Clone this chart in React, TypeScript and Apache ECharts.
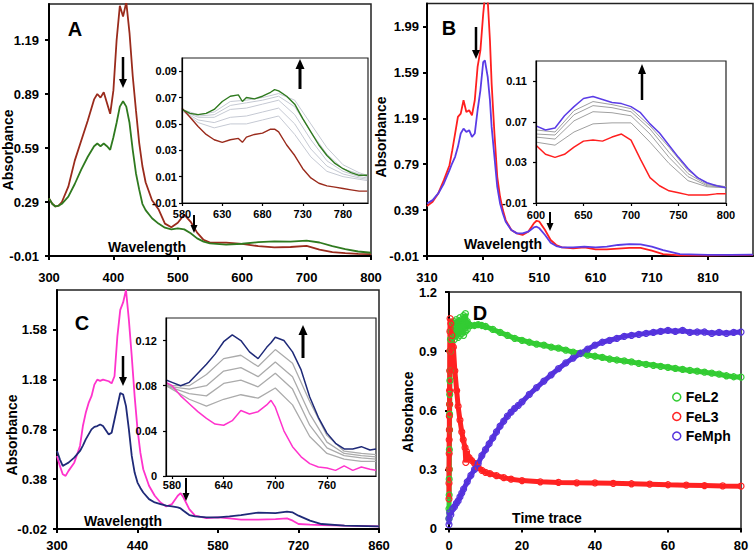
import React, { useEffect, useRef } from 'react';
import * as echarts from 'echarts';

const FONT = '"Liberation Sans", Arial, Helvetica, sans-serif';

// ---------- Panel A (main) ----------
const aWave = [300,305,310,315,320,330,340,350,360,370,375,380,385,390,395,400,405,410,415,420,425,430,435,440,445,450,460,470,480,490,500,510,520,530,540,550,575,600,625,650,675,700,720,740,760,780,800];
const aBrown = [0.31,0.28,0.265,0.27,0.29,0.375,0.52,0.63,0.74,0.86,0.89,0.87,0.9,0.84,0.78,0.91,1.19,1.38,1.32,1.4,1.23,0.99,0.8,0.62,0.49,0.4,0.3,0.25,0.17,0.15,0.175,0.22,0.18,0.12,0.08,0.064,0.064,0.057,0.045,0.038,0.04,0.046,0.025,0.012,0.006,0.002,0.0];
const aGreen = [0.31,0.28,0.265,0.27,0.28,0.32,0.39,0.47,0.54,0.6,0.615,0.6,0.615,0.6,0.58,0.65,0.73,0.82,0.85,0.82,0.73,0.58,0.45,0.36,0.28,0.245,0.2,0.17,0.147,0.138,0.144,0.138,0.116,0.088,0.07,0.06,0.053,0.058,0.067,0.071,0.07,0.075,0.065,0.045,0.028,0.015,0.008];

// ---------- Panel A (inset) ----------
const aInsetWave = [580,590,600,610,620,630,640,650,655,660,670,680,690,695,700,710,720,730,740,750,760,770,780,790,800,810];
const aInsetGreen = [0.061,0.058,0.057,0.058,0.061,0.067,0.071,0.072,0.067,0.07,0.069,0.071,0.074,0.076,0.075,0.071,0.065,0.054,0.044,0.034,0.026,0.02,0.016,0.013,0.011,0.011];
const aInsetBrown = [0.062,0.055,0.048,0.042,0.038,0.036,0.038,0.039,0.036,0.04,0.042,0.043,0.046,0.046,0.044,0.034,0.026,0.016,0.009,0.005,0.003,0.002,0.001,0.0,-0.001,-0.001];
const aGrayWave = [580,600,620,640,660,680,700,720,740,760,780,800,810];
const aGray1 = [0.061,0.057,0.059,0.067,0.068,0.07,0.073,0.068,0.05,0.032,0.019,0.013,0.011];
const aGray2 = [0.06,0.056,0.057,0.064,0.066,0.068,0.071,0.063,0.044,0.027,0.016,0.012,0.01];
const aGray3 = [0.06,0.055,0.055,0.061,0.062,0.065,0.068,0.057,0.038,0.022,0.014,0.01,0.009];
const aGray4 = [0.06,0.053,0.051,0.055,0.056,0.059,0.062,0.05,0.031,0.018,0.012,0.009,0.008];
const aGray5 = [0.06,0.051,0.047,0.05,0.05,0.053,0.056,0.042,0.025,0.014,0.01,0.008,0.007];

// ---------- Panel B (main) ----------
const bWave = [310,320,330,340,350,355,360,365,370,375,380,385,390,395,400,405,410,413,418,422,425,430,435,440,445,450,460,470,480,490,500,505,510,520,530,540,550,570,590,610,630,650,670,690,710,730,760,810,850,890];
const bRed = [0.425,0.463,0.535,0.651,0.781,0.912,1.057,1.202,1.231,1.347,1.245,1.26,1.216,1.347,1.637,1.782,2.1,2.25,2.22,1.868,1.492,1.057,0.68,0.506,0.39,0.303,0.216,0.187,0.173,0.202,0.274,0.297,0.289,0.216,0.129,0.086,0.065,0.057,0.065,0.048,0.048,0.054,0.06,0.06,0.036,0.007,-0.004,-0.004,-0.002,0.0];
const bBlue = [0.448,0.477,0.535,0.622,0.738,0.8,0.854,0.941,1.057,1.1,1.071,1.086,1.028,1.057,1.26,1.434,1.68,1.695,1.55,1.347,1.115,0.854,0.593,0.448,0.361,0.289,0.216,0.187,0.187,0.202,0.239,0.245,0.231,0.173,0.106,0.077,0.065,0.065,0.071,0.065,0.071,0.086,0.094,0.091,0.071,0.042,0.007,-0.001,0.0,0.002];

// ---------- Panel B (inset) ----------
const bInsetWave = [600,610,620,630,640,650,660,670,680,690,700,710,720,730,740,750,760,770,780,790,800];
const bInsetBlue = [0.066,0.062,0.064,0.076,0.085,0.093,0.095,0.092,0.089,0.088,0.085,0.079,0.068,0.059,0.047,0.035,0.024,0.015,0.01,0.007,0.005];
const bInsetRed = [0.047,0.038,0.035,0.038,0.045,0.051,0.052,0.051,0.055,0.058,0.052,0.033,0.015,0.007,0.002,0.0,-0.002,-0.002,-0.002,-0.001,-0.001];
const bGrayWave = [600,620,640,660,680,700,720,740,760,780,800];
const bGray1 = [0.062,0.06,0.081,0.09,0.087,0.083,0.066,0.045,0.022,0.009,0.006];
const bGray2 = [0.058,0.057,0.077,0.086,0.084,0.08,0.063,0.04,0.019,0.008,0.006];
const bGray3 = [0.055,0.053,0.071,0.08,0.079,0.076,0.058,0.035,0.016,0.007,0.005];
const bGray4 = [0.05,0.047,0.06,0.068,0.069,0.069,0.05,0.029,0.012,0.006,0.005];

// ---------- Panel C (main) ----------
const cWave = [300,305,310,315,320,330,340,345,350,355,360,365,370,375,380,390,395,400,405,410,415,420,425,430,435,440,445,450,460,470,480,490,500,510,515,520,530,540,560,580,600,620,650,680,700,710,720,740,760,800,860];
const cMagenta = [0.567,0.487,0.42,0.407,0.447,0.513,0.647,0.807,0.913,0.993,1.047,1.14,1.18,1.17,1.18,1.167,1.15,1.207,1.527,1.74,1.8,1.9,1.66,1.367,1.047,0.78,0.593,0.46,0.327,0.247,0.193,0.161,0.18,0.247,0.268,0.233,0.14,0.087,0.068,0.073,0.065,0.055,0.055,0.06,0.065,0.047,0.02,0.015,0.012,0.007,0.001];
const cNavy = [0.607,0.54,0.487,0.5,0.513,0.553,0.607,0.65,0.7,0.74,0.78,0.8,0.807,0.82,0.807,0.74,0.753,0.86,0.967,1.073,1.06,0.967,0.78,0.567,0.433,0.353,0.31,0.273,0.22,0.193,0.18,0.167,0.161,0.153,0.145,0.127,0.092,0.081,0.073,0.073,0.081,0.092,0.112,0.108,0.119,0.113,0.087,0.047,0.02,0.007,0.001];

// ---------- Panel C (inset) ----------
const cInsetWave = [573,580,590,600,610,620,630,640,650,660,670,680,690,695,700,710,720,730,740,750,760,770,780,790,800,810,817];
const cInsetNavy = [0.085,0.083,0.08,0.083,0.091,0.099,0.108,0.119,0.125,0.12,0.11,0.104,0.114,0.118,0.123,0.12,0.11,0.094,0.07,0.052,0.038,0.029,0.024,0.024,0.026,0.023,0.024];
const cInsetMagenta = [0.083,0.08,0.071,0.064,0.057,0.051,0.046,0.045,0.049,0.058,0.055,0.057,0.063,0.067,0.061,0.04,0.026,0.017,0.011,0.008,0.007,0.005,0.009,0.005,0.008,0.006,0.005];
const cGrayWave = [573,580,600,620,640,660,680,700,720,740,760,780,800,817];
const cGray1 = [0.082,0.08,0.08,0.09,0.104,0.107,0.097,0.112,0.1,0.066,0.036,0.022,0.02,0.019];
const cGray2 = [0.081,0.079,0.077,0.08,0.093,0.096,0.088,0.101,0.088,0.055,0.03,0.02,0.018,0.017];
const cGray3 = [0.08,0.078,0.073,0.071,0.082,0.085,0.079,0.091,0.077,0.045,0.025,0.018,0.016,0.015];
const cGray4 = [0.08,0.077,0.068,0.062,0.068,0.072,0.069,0.078,0.063,0.035,0.02,0.015,0.013,0.013];

// ---------- Panel D (time trace) ----------
const dL2Time = [0,0,0.05,0.05,0.1,0.1,0.15,0.15,0.2,0.2,0.25,0.3,0.35,0.4,0.5,1,1,1.5,1.5,2,2,2.5,2.5,3,3,3.5,3.5,4,4,4.5,4.5,5,5,6,7,8,9,10,12,14,16,18,20,22,24,26,28,30,32,34,36,38,40,42,44,46,48,50,52,54,56,58,60,62,64,66,68,70,72,74,76,78,80];
const dL2Abs = [0.05,0.1,0.17,0.25,0.3,0.4,0.5,0.58,0.63,0.68,0.75,0.8,0.9,0.96,1.0,0.97,1.04,0.96,1.05,0.98,1.06,0.97,1.05,0.98,1.07,0.99,1.06,0.98,1.08,1.0,1.09,1.01,1.05,1.03,1.03,1.035,1.03,1.025,1.01,0.995,0.98,0.965,0.955,0.945,0.935,0.93,0.92,0.915,0.905,0.895,0.89,0.88,0.874,0.868,0.86,0.855,0.85,0.845,0.838,0.833,0.828,0.823,0.818,0.812,0.807,0.802,0.798,0.793,0.788,0.783,0.775,0.77,0.768];
const dL3Time = [0,0,0,0.05,0.05,0.1,0.1,0.15,0.15,0.2,0.2,0.25,0.3,0.5,0.8,1.2,1.6,2.1,2.5,3,3.5,3.9,4.4,4.6,4.8,5.5,6.2,7,8,9,10,11.2,13,15,17,20,25,30,35,40,45,50,55,60,65,70,75,80];
const dL3Abs = [0.15,0.23,0.3,0.38,0.45,0.5,0.57,0.63,0.7,0.8,0.9,1.0,1.065,1.04,0.98,0.92,0.8,0.7,0.62,0.55,0.49,0.45,0.41,0.335,0.39,0.36,0.345,0.33,0.31,0.295,0.285,0.279,0.268,0.258,0.25,0.243,0.237,0.234,0.232,0.231,0.229,0.227,0.225,0.222,0.22,0.218,0.216,0.215];
const dMphTime = [0,0,0.2,0.5,1,1.5,2,2.5,3,3.5,4,5,6,7,8,9,10,11,12,13,14,15,16,17,18,19,20,22,24,26,28,30,32,34,36,38,40,42,44,46,48,50,52,54,56,58,60,62,64,66,68,70,72,74,76,78,80];
const dMphAbs = [0.02,0.05,0.08,0.07,0.1,0.11,0.127,0.14,0.16,0.18,0.2,0.237,0.27,0.3,0.33,0.37,0.4,0.43,0.46,0.49,0.52,0.545,0.57,0.59,0.61,0.625,0.642,0.68,0.715,0.748,0.78,0.811,0.84,0.865,0.888,0.91,0.93,0.945,0.955,0.965,0.975,0.98,0.985,0.99,0.995,1.0,1.005,1.0,1.005,0.995,0.997,0.997,0.99,0.995,0.99,0.995,0.997];

// ---------- Tick labels ----------
const aXTicks = [300,400,500,600,700,800];
const aYTicks = [-0.01,0.29,0.59,0.89,1.19];
const aInXTicks = [580,630,680,730,780];
const aInYTicks = [-0.01,0.01,0.03,0.05,0.07,0.09];
const bXTicks = [310,410,510,610,710,810];
const bYTicks = [-0.01,0.39,0.79,1.19,1.59,1.99];
const bInXTicks = [600,650,700,750,800];
const bInYTicks = [-0.01,0.03,0.07,0.11];
const cXTicks = [300,440,580,720,860];
const cYTicks = [-0.02,0.38,0.78,1.18,1.58];
const cInXTicks = [580,640,700,760];
const cInYTicks = [0,0.04,0.08,0.12];
const dXTicks = [0,20,40,60,80];
const dYTicks = [0,0.3,0.6,0.9,1.2];

const pairs = (xs: number[], ys: number[]) => xs.map((x, i) => [x, ys[i]]);

type AxOpt = { lw: number; tl: number; fs: number; m: number; fmt: (v: number) => string; z?: number };

function axis(gi: number, min: number, max: number, ticks: number[], o: AxOpt) {
  return {
    type: 'value',
    gridIndex: gi,
    min,
    max,
    z: o.z ?? 2,
    axisLine: { show: true, onZero: false, lineStyle: { color: '#000', width: o.lw } },
    axisTick: { show: true, inside: false, length: o.tl, customValues: ticks, lineStyle: { color: '#000', width: o.lw } },
    axisLabel: {
      customValues: ticks,
      fontSize: o.fs,
      fontWeight: 'bold',
      fontFamily: FONT,
      color: '#000',
      margin: o.m,
      formatter: o.fmt,
      hideOverlap: false,
    },
    splitLine: { show: false },
  };
}

const f2 = (v: number) => (Math.abs(v) < 1e-9 ? '0' : v.toFixed(2));
const fInt = (v: number) => String(Math.round(v));
const f1 = (v: number) => String(Number(v.toFixed(1)));

function line(name: string, gi: number, xs: number[], ys: number[], color: string, width: number, z = 2) {
  return {
    type: 'line',
    name,
    xAxisIndex: gi,
    yAxisIndex: gi,
    data: pairs(xs, ys),
    showSymbol: false,
    symbol: 'none',
    lineStyle: { color, width },
    itemStyle: { color },
    z,
    silent: true,
  };
}

function dots(name: string, xs: number[], ys: number[], color: string) {
  return {
    type: 'line',
    name,
    xAxisIndex: 6,
    yAxisIndex: 6,
    data: pairs(xs, ys),
    showSymbol: true,
    symbol: 'circle',
    symbolSize: 6,
    itemStyle: { color: 'rgba(255,255,255,0)', borderColor: color, borderWidth: 1.2 },
    lineStyle: { color, width: 5 },
    z: 3,
    silent: true,
  };
}

function txt(text: string, x: number, y: number, size: number, rot = 0) {
  return {
    type: 'text',
    x,
    y,
    rotation: rot,
    z: 100,
    style: {
      text,
      fill: '#000',
      fontSize: size,
      fontWeight: 'bold',
      fontFamily: FONT,
      align: 'center',
      verticalAlign: 'middle',
      textAlign: 'center',
      textVerticalAlign: 'middle',
    },
  };
}

function arrow(x: number, y1: number, y2: number, sw = 2.5, hw = 8, hl = 9) {
  const dir = y2 > y1 ? 1 : -1;
  const yb = y2 - dir * hl;
  return [
    { type: 'line', z: 100, shape: { x1: x, y1, x2: x, y2: yb }, style: { stroke: '#000', lineWidth: sw } },
    { type: 'polygon', z: 100, shape: { points: [[x - hw / 2, yb], [x + hw / 2, yb], [x, y2]] }, style: { fill: '#000' } },
  ];
}

const mainX = (m: number) => ({ lw: 2, tl: 4, fs: 13, m, fmt: fInt });
const mainY = (m: number, fmt = f2) => ({ lw: 2, tl: 4, fs: 13, m, fmt });
const inX = (m: number) => ({ lw: 1.2, tl: 3, fs: 11, m, fmt: fInt, z: 5 });
const inY = (m: number) => ({ lw: 1.2, tl: 3, fs: 11, m, fmt: f2, z: 5 });

const gridBase = { show: true, borderColor: '#222', borderWidth: 1.5, containLabel: false };

const colors = {
  brown: '#9a2b1c',
  green: '#2f7a1f',
  grayA: '#c5c9d3',
  red: '#ff1f1f',
  blue: '#5a3ce6',
  grayB: '#a0a0a0',
  magenta: '#ff33cc',
  navy: '#1f2a78',
  grayC: '#ababab',
  dGreen: '#33cc33',
  dRed: '#ff2222',
  dBlue: '#5533dd',
};

const option = {
  animation: false,
  backgroundColor: '#fff',
  textStyle: { fontFamily: FONT },
  grid: [
    { ...gridBase, left: 49, top: 4, width: 322, height: 252 },
    { ...gridBase, left: 182, top: 58, width: 186, height: 145, backgroundColor: '#fff', borderWidth: 1.2, z: 3 },
    { ...gridBase, left: 427, top: 3.5, width: 326, height: 252.5 },
    { ...gridBase, left: 536, top: 61, width: 190, height: 142, backgroundColor: '#fff', borderWidth: 1.2, z: 3 },
    { ...gridBase, left: 57, top: 290, width: 322, height: 240 },
    { ...gridBase, left: 166, top: 318, width: 210, height: 158, backgroundColor: '#fff', borderWidth: 1.2, z: 3 },
    { ...gridBase, left: 449, top: 292, width: 292, height: 236.5 },
  ],
  xAxis: [
    axis(0, 300, 800, aXTicks, mainX(15)),
    axis(1, 580, 811, aInXTicks, inX(5)),
    axis(2, 310, 890, bXTicks, mainX(15)),
    axis(3, 600, 800, bInXTicks, inX(6)),
    axis(4, 300, 860, cXTicks, mainX(10)),
    axis(5, 573, 817, cInXTicks, inX(3)),
    axis(6, 0, 80, dXTicks, mainX(10)),
  ],
  yAxis: [
    axis(0, -0.01, 1.39, aYTicks, mainY(10)),
    axis(1, -0.01, 0.1, aInYTicks, inY(5)),
    axis(2, -0.01, 2.19, bYTicks, mainY(8)),
    axis(3, -0.01, 0.13, bInYTicks, inY(9)),
    axis(4, -0.02, 1.9, cYTicks, mainY(10)),
    axis(5, 0, 0.14, cInYTicks, inY(9)),
    axis(6, 0, 1.2, dYTicks, mainY(12, f1)),
  ],
  legend: {
    orient: 'vertical',
    left: 672,
    top: 390,
    padding: 0,
    itemGap: 5.5,
    itemWidth: 8,
    itemHeight: 8,
    icon: 'circle',
    textStyle: { fontSize: 14, fontWeight: 'bold', fontFamily: FONT, color: '#000', lineHeight: 14 },
    data: [
      { name: 'FeL2', itemStyle: { color: 'rgba(255,255,255,0)', borderColor: colors.dGreen, borderWidth: 1.5 } },
      { name: 'FeL3', itemStyle: { color: 'rgba(255,255,255,0)', borderColor: colors.dRed, borderWidth: 1.5 } },
      { name: 'FeMph', itemStyle: { color: 'rgba(255,255,255,0)', borderColor: colors.dBlue, borderWidth: 1.5 } },
    ],
  },
  series: [
    line('A brown', 0, aWave, aBrown, colors.brown, 1.8),
    line('A green', 0, aWave, aGreen, colors.green, 1.8),
    line('A gray 5', 1, aGrayWave, aGray5, colors.grayA, 1, 4),
    line('A gray 4', 1, aGrayWave, aGray4, colors.grayA, 1, 4),
    line('A gray 3', 1, aGrayWave, aGray3, colors.grayA, 1, 4),
    line('A gray 2', 1, aGrayWave, aGray2, colors.grayA, 1, 4),
    line('A gray 1', 1, aGrayWave, aGray1, colors.grayA, 1, 4),
    line('A inset brown', 1, aInsetWave, aInsetBrown, colors.brown, 1.4, 4),
    line('A inset green', 1, aInsetWave, aInsetGreen, colors.green, 1.4, 4),

    line('B red', 2, bWave, bRed, colors.red, 1.8),
    line('B blue', 2, bWave, bBlue, colors.blue, 1.8),
    line('B gray 4', 3, bGrayWave, bGray4, colors.grayB, 1, 4),
    line('B gray 3', 3, bGrayWave, bGray3, colors.grayB, 1, 4),
    line('B gray 2', 3, bGrayWave, bGray2, colors.grayB, 1, 4),
    line('B gray 1', 3, bGrayWave, bGray1, colors.grayB, 1, 4),
    line('B inset red', 3, bInsetWave, bInsetRed, colors.red, 1.5, 4),
    line('B inset blue', 3, bInsetWave, bInsetBlue, colors.blue, 1.5, 4),

    line('C magenta', 4, cWave, cMagenta, colors.magenta, 1.8),
    line('C navy', 4, cWave, cNavy, colors.navy, 1.8),
    line('C gray 4', 5, cGrayWave, cGray4, colors.grayC, 1.3, 4),
    line('C gray 3', 5, cGrayWave, cGray3, colors.grayC, 1.3, 4),
    line('C gray 2', 5, cGrayWave, cGray2, colors.grayC, 1.3, 4),
    line('C gray 1', 5, cGrayWave, cGray1, colors.grayC, 1.3, 4),
    line('C inset magenta', 5, cInsetWave, cInsetMagenta, colors.magenta, 1.5, 4),
    line('C inset navy', 5, cInsetWave, cInsetNavy, colors.navy, 1.5, 4),

    dots('FeL2', dL2Time, dL2Abs, colors.dGreen),
    dots('FeL3', dL3Time, dL3Abs, colors.dRed),
    dots('FeMph', dMphTime, dMphAbs, colors.dBlue),
  ],
  graphic: [
    txt('A', 75, 29, 20),
    txt('B', 449, 28, 20),
    txt('C', 82, 323, 20),
    txt('D', 480, 313, 20),
    txt('Wavelength', 147, 247, 14),
    txt('Wavelength', 503, 244, 14),
    txt('Wavelength', 123, 521, 14),
    txt('Time trace', 547, 518, 14),
    txt('Absorbance', 8, 150, 14, Math.PI / 2),
    txt('Absorbance', 381, 137, 14, Math.PI / 2),
    txt('Absorbance', 12, 435, 14, Math.PI / 2),
    txt('Absorbance', 408, 412, 14, Math.PI / 2),
    ...arrow(123, 57, 88),
    ...arrow(194, 215, 233, 2, 7, 8),
    ...arrow(300, 89, 59, 3, 9, 10),
    ...arrow(476, 27, 59),
    ...arrow(550, 212, 231, 2, 7, 8),
    ...arrow(642, 100, 64, 2.5, 8, 10),
    ...arrow(123, 356, 386),
    ...arrow(186, 478, 501, 2, 7, 8),
    ...arrow(303, 358, 325, 3, 9, 10),
  ],
};

export default function App() {
  const ref = useRef<HTMLDivElement>(null);
  useEffect(() => {
    if (!ref.current) return;
    const chart = echarts.init(ref.current, null, { renderer: 'svg' });
    chart.setOption(option as any);
    return () => chart.dispose();
  }, []);
  return (
    <div
      ref={ref}
      style={{ position: 'fixed', left: 0, top: 0, width: 756, height: 552, background: '#fff' }}
    />
  );
}
